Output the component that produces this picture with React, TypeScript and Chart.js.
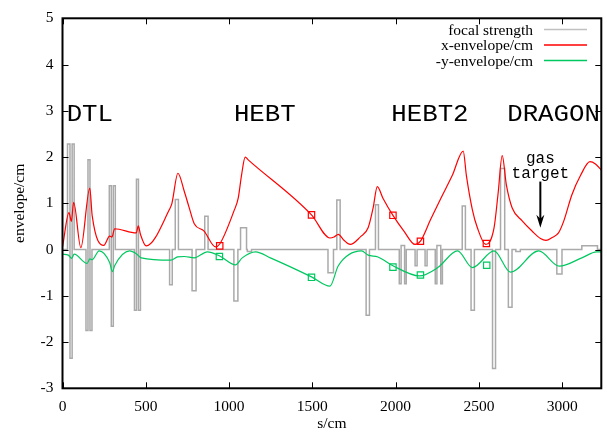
import React, { useEffect, useRef } from 'react';
import { Chart, registerables } from 'chart.js';
Chart.register(...registerables);

// ---- data ----
const X_MIN = 0;
const X_MAX = 3235;
const Y_MIN = -3;
const Y_MAX = 5;
const xTickValues = [0, 500, 1000, 1500, 2000, 2500, 3000];
const yTickValues = [-3, -2, -1, 0, 1, 2, 3, 4, 5];

// focal strength elements (start s, end s, strength)
const focalStart = [30, 45, 58, 141, 153, 165, 281, 293, 305, 432, 444, 456,
  643, 677, 778, 854, 1029, 1069, 1110, 1594, 1647, 1823, 1879,
  2022, 2033, 2054, 2117, 2177, 2238, 2248, 2271, 2400, 2453,
  2582, 2630, 2677, 2722, 2968, 3118];
const focalEnd = [45, 58, 70, 153, 165, 177, 293, 305, 317, 444, 456, 468,
  659, 696, 802, 874, 1053, 1105, 1135, 1627, 1667, 1843, 1897,
  2033, 2054, 2064, 2129, 2189, 2248, 2271, 2281, 2419, 2473,
  2600, 2655, 2699, 2749, 2999, 3212];
const focalValue = [2.28, -2.35, 2.28, -1.75, 1.94, -1.75, 1.38, -1.66, 1.38, -1.31, 1.52, -1.31,
  -0.76, 1.08, -0.89, 0.72, -1.11, 0.47, -0.04, -0.5, 1.07, -1.42, 0.97,
  -0.74, 0.09, -0.74, -0.35, -0.35, -0.74, 0.09, -0.74, 0.94, -1.31,
  -2.57, 1.75, -1.25, -0.04, -0.53, 0.08];

// x-envelope
const xEnvS = [0, 39, 53, 67, 110, 164, 178, 248, 283, 297, 313, 443, 455, 468, 502,
  641, 657, 693, 731, 761, 791, 850, 918, 944, 1029, 1055, 1075, 1097, 1115,
  1495, 1606, 1630, 1656, 1690, 1727, 1790, 1835, 1865, 1890, 1924, 1984, 2050,
  2117, 2149, 2210, 2272, 2340, 2406, 2425, 2461, 2491, 2541, 2591, 2615, 2640,
  2665, 2700, 2760, 2819, 2870, 2903, 2940, 2978, 3010, 3058, 3110, 3167, 3200, 3235];
const xEnvV = [0.05, 0.8, 0.61, 1.02, 0.04, 1.33, 0.74, 0.09, 0.29, 0.27, 0.45, 0.36, 0.51, 0.33, 0.08,
  0.86, 1.0, 1.65, 1.26, 0.9, 0.56, 0.4, 0.06, 0.12, 0.83, 1.11, 1.61, 2.0, 1.94,
  0.75, 0.25, 0.27, 0.33, 0.2, 0.11, 0.28, 0.47, 0.9, 1.36, 1.11, 0.74, 0.4,
  0.11, 0.18, 0.65, 1.11, 1.6, 2.13, 1.6, 0.86, 0.47, 0.11, 0.47, 1.2, 2.03,
  1.4, 0.9, 0.62, 0.4, 0.24, 0.2, 0.26, 0.36, 0.62, 1.18, 1.6, 1.9, 1.85, 1.72];

// -y-envelope
const yEnvS = [0, 35, 55, 70, 148, 164, 178, 220, 283, 300, 313, 403, 443, 473, 651, 691,
  731, 791, 870, 944, 1039, 1079, 1159, 1248, 1495, 1606, 1656, 1795, 1835, 1894,
  1984, 2143, 2253, 2372, 2461, 2591, 2690, 2859, 2983, 3118, 3207, 3235];
const yEnvV = [-0.1, -0.12, -0.19, -0.1, -0.3, -0.2, -0.22, -0.03, -0.28, -0.48, -0.35, -0.03, -0.09, -0.18, -0.23, -0.16,
  -0.15, -0.18, -0.05, -0.14, -0.33, -0.18, -0.05, -0.18, -0.59, -0.79, -0.35, -0.03, -0.12, -0.16,
  -0.35, -0.57, -0.39, -0.03, -0.39, -0.03, -0.49, -0.03, -0.36, -0.18, -0.05, -0.05];

// measured points
const xMarkS = [944, 1495, 1984, 2149, 2545];
const xMarkV = [0.08, 0.75, 0.74, 0.18, 0.13];
const yMarkS = [942, 1495, 1984, 2149, 2547];
const yMarkV = [-0.15, -0.6, -0.38, -0.55, -0.34];

// annotations
const sectionNames = ['DTL', 'HEBT', 'HEBT2', 'DRAGON'];
const sectionS = [25, 1029, 1974, 2670];
const sectionY = 2.79;
const targetS = 2869;
const targetTextY = [1.88, 1.55];
const targetLines = ['gas', 'target'];
const arrowTop = 1.47;
const arrowTip = 0.47;

const legendNames = ['focal strength', 'x-envelope/cm', '-y-envelope/cm'];

const GREY = '#aaaaaa';
const RED = '#ff0000';
const GREEN = '#00c860';
const SERIF = "'Liberation Serif', 'Times New Roman', serif";
const MONO = "'Liberation Mono', 'Courier New', monospace";

const pairs = (xs: number[], ys: number[]) => xs.map((s, i) => ({ x: s, y: ys[i] }));

function focalPoints() {
  const pts: { x: number; y: number }[] = [{ x: X_MIN, y: 0 }];
  focalStart.forEach((s, i) => {
    pts.push({ x: s, y: 0 }, { x: s, y: focalValue[i] }, { x: focalEnd[i], y: focalValue[i] }, { x: focalEnd[i], y: 0 });
  });
  pts.push({ x: X_MAX, y: 0 });
  return pts;
}

const decorPlugin = {
  id: 'decor',
  afterDatasetsDraw(chart: any) {
    const { ctx, chartArea: a, scales } = chart;
    const xs = scales.x;
    const ys = scales.y;
    ctx.save();
    ctx.fillStyle = '#000';
    ctx.strokeStyle = '#000';

    // section labels (wide courier look)
    ctx.font = `23px ${MONO}`;
    ctx.textAlign = 'left';
    ctx.textBaseline = 'alphabetic';
    sectionNames.forEach((t, i) => {
      const px = xs.getPixelForValue(sectionS[i]);
      const py = ys.getPixelForValue(sectionY);
      ctx.save();
      ctx.translate(px, py);
      ctx.scale(1.12, 1);
      ctx.fillText(t, 0, 0);
      ctx.restore();
    });

    // gas target label
    ctx.font = `16px ${MONO}`;
    ctx.textAlign = 'center';
    targetLines.forEach((t, i) => {
      ctx.fillText(t, xs.getPixelForValue(targetS), ys.getPixelForValue(targetTextY[i]));
    });

    // arrow
    const ax = xs.getPixelForValue(targetS);
    const ay0 = ys.getPixelForValue(arrowTop);
    const ay1 = ys.getPixelForValue(arrowTip);
    ctx.lineWidth = 2;
    ctx.beginPath();
    ctx.moveTo(ax, ay0);
    ctx.lineTo(ax, ay1 - 6);
    ctx.stroke();
    ctx.beginPath();
    ctx.moveTo(ax, ay1);
    ctx.lineTo(ax - 4, ay1 - 13);
    ctx.lineTo(ax, ay1 - 9);
    ctx.lineTo(ax + 4, ay1 - 13);
    ctx.closePath();
    ctx.fill();

    // frame
    ctx.lineWidth = 2;
    ctx.strokeRect(a.left, a.top, a.right - a.left, a.bottom - a.top);

    // inward ticks on all sides
    ctx.lineWidth = 1;
    const TL = 6;
    ctx.beginPath();
    xTickValues.forEach((v) => {
      const px = Math.round(xs.getPixelForValue(v)) + 0.5;
      ctx.moveTo(px, a.bottom);
      ctx.lineTo(px, a.bottom - TL);
      ctx.moveTo(px, a.top);
      ctx.lineTo(px, a.top + TL);
    });
    yTickValues.forEach((v) => {
      const py = Math.round(ys.getPixelForValue(v)) + 0.5;
      ctx.moveTo(a.left, py);
      ctx.lineTo(a.left + TL, py);
      ctx.moveTo(a.right, py);
      ctx.lineTo(a.right - TL, py);
    });
    ctx.stroke();

    // legend (gnuplot style)
    const colors = ['#c0c0c0', RED, GREEN];
    const rowY = [29.5, 45, 60.5];
    ctx.font = `15.5px ${SERIF}`;
    ctx.textAlign = 'right';
    ctx.textBaseline = 'middle';
    legendNames.forEach((t, i) => {
      ctx.fillStyle = '#000';
      ctx.fillText(t, 533, rowY[i] + 1);
      ctx.strokeStyle = colors[i];
      ctx.lineWidth = 1.5;
      ctx.beginPath();
      ctx.moveTo(544, rowY[i]);
      ctx.lineTo(587, rowY[i]);
      ctx.stroke();
    });
    ctx.restore();
  },
};

export default function App() {
  const ref = useRef<HTMLCanvasElement | null>(null);
  useEffect(() => {
    document.body.style.margin = '0';
    const canvas = ref.current!;
    const chart = new Chart(canvas, {
      type: 'line',
      data: {
        datasets: [
          {
            label: 'focal strength',
            data: focalPoints(),
            borderColor: GREY,
            borderWidth: 1.5,
            pointRadius: 0,
            tension: 0,
            order: 4,
          },
          {
            label: 'x-envelope/cm',
            data: pairs(xEnvS, xEnvV),
            borderColor: RED,
            borderWidth: 1.2,
            pointRadius: 0,
            cubicInterpolationMode: 'monotone',
            order: 3,
          },
          {
            label: '-y-envelope/cm',
            data: pairs(yEnvS, yEnvV),
            borderColor: GREEN,
            borderWidth: 1.2,
            pointRadius: 0,
            cubicInterpolationMode: 'monotone',
            order: 2,
          },
          {
            label: 'x measured',
            data: pairs(xMarkS, xMarkV),
            showLine: false,
            pointStyle: 'rect',
            pointRadius: 4.5,
            pointBorderWidth: 1.2,
            pointBorderColor: RED,
            pointBackgroundColor: 'rgba(0,0,0,0)',
            order: 1,
          },
          {
            label: 'y measured',
            data: pairs(yMarkS, yMarkV),
            showLine: false,
            pointStyle: 'rect',
            pointRadius: 4.5,
            pointBorderWidth: 1.2,
            pointBorderColor: GREEN,
            pointBackgroundColor: 'rgba(0,0,0,0)',
            order: 1,
          },
        ],
      },
      options: {
        responsive: false,
        animation: false,
        devicePixelRatio: 1,
        layout: { padding: { left: 0, right: 2.5, top: 15.5, bottom: 0 } },
        plugins: { legend: { display: false }, tooltip: { enabled: false } },
        scales: {
          x: {
            type: 'linear',
            min: X_MIN,
            max: X_MAX,
            grid: { display: false, drawTicks: false },
            border: { display: false },
            afterBuildTicks: (s: any) => { s.ticks = xTickValues.map((v) => ({ value: v })); },
            ticks: {
              autoSkip: false,
              padding: 9,
              color: '#000',
              maxRotation: 0,
              font: { family: SERIF, size: 15.5 },
              callback: (v: any) => String(v),
            },
            title: {
              display: true,
              text: 's/cm',
              color: '#000',
              font: { family: SERIF, size: 15.5 },
              padding: { top: 0, bottom: 4 },
            },
            afterFit: (s: any) => { s.height = 437 - 388.3; },
          },
          y: {
            type: 'linear',
            min: Y_MIN,
            max: Y_MAX,
            grid: { display: false, drawTicks: false },
            border: { display: false },
            afterBuildTicks: (s: any) => { s.ticks = yTickValues.map((v) => ({ value: v })); },
            ticks: {
              autoSkip: false,
              padding: 9,
              color: '#000',
              font: { family: SERIF, size: 15.5 },
              callback: (v: any) => String(v),
            },
            title: {
              display: true,
              text: 'envelope/cm',
              color: '#000',
              font: { family: SERIF, size: 15.5 },
              padding: { top: 11, bottom: 0 },
            },
            afterFit: (s: any) => { s.width = 62.5; },
          },
        },
      },
      plugins: [decorPlugin],
    } as any);
    return () => chart.destroy();
  }, []);
  return (
    <div style={{ position: 'absolute', left: 0, top: 0, width: 607, height: 437 }}>
      <canvas ref={ref} width={607} height={437} />
    </div>
  );
}
